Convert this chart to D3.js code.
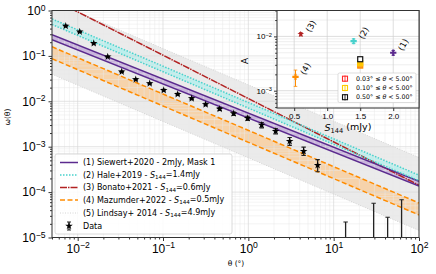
<!DOCTYPE html>
<html lang="en">
<head>
<meta charset="utf-8">
<title>Angular correlation function</title>
<script src="https://cdn.jsdelivr.net/npm/d3@7"></script>
<style>
    body { margin: 0; background: #fff; }
    svg { font-family: "DejaVu Sans", sans-serif; }
</style>
</head>
<body>
<script>
// Data points (stars). null = value below axis, only the upper error bar shows
var thetaData = [0.00724, 0.01057, 0.01542, 0.0225, 0.0328, 0.0479, 0.0698, 0.1019, 0.1486,
                 0.2168, 0.316, 0.461, 0.673, 0.982, 1.432, 2.089, 3.048, 4.446, 6.486,
                 13.8, 29.4, 42.9, 62.5];
var omegaData = [0.455, 0.34, 0.189, 0.0955, 0.0446, 0.0303, 0.0247, 0.0176, 0.01435,
                 0.01153, 0.0085, 0.0068, 0.00538, 0.00424, 0.00301, 0.00219, 0.00132, 0.00079, 0.00039,
                 null, null, null, null];
var omegaLo = [0.44, 0.33, 0.183, 0.092, 0.043, 0.029, 0.0237, 0.0169, 0.0137,
               0.0109, 0.0080, 0.0063, 0.0049, 0.0038, 0.0026, 0.0019, 0.00107, 0.00064, 0.00028,
               null, null, null, null];
var omegaHi = [0.47, 0.35, 0.195, 0.099, 0.0462, 0.0316, 0.0257, 0.0183, 0.0150,
               0.0121, 0.0090, 0.0073, 0.0058, 0.0047, 0.0034, 0.0025, 0.00159, 0.00098, 0.00052,
               2.2e-5, 5.7e-5, 2.8e-5, 6.8e-5];

// Power law models w = A * theta^slope, band between ampLo and ampHi
var modelLabels = ["(1) Siewert+2020 - 2mJy, Mask 1", "(2) Hale+2019 - S144=1.4mJy",
                   "(3) Bonato+2021 - S144=0.6mJy", "(4) Mazumder+2022 - S144=0.5mJy",
                   "(5) Lindsay+ 2014 - S144=4.9mJy"];
var modelAmpLo = [4.3e-3, 7.1e-3, 1.15e-2, 1.25e-3, 5.7e-4];
var modelAmpHi = [5.5e-3, 9.4e-3, 1.15e-2, 2.29e-3, 2.3e-2];
var modelSlope = [-0.75, -0.8, -0.955, -0.8, -0.8];
var modelColor = ["#5b2a8e", "#48d1cc", "#b22222", "#ff8c00", "#d4d4d4"];
var modelFill = ["#c9b5dc", "#bdeeec", null, "#f6d3ab", "#ebebeb"];
var modelDash = [null, "1.5,1.5", "7,1,1.5,1", "5,2.5", "1,1.5"];

// Inset: amplitude A against flux limit S144
var insetLabels = ["(1)", "(2)", "(3)", "(4)"];
var insetFlux = [2.0, 1.4, 0.6, 0.52];
var insetAmp = [5.0e-3, 8.2e-3, 1.1e-2, 1.8e-3];
var insetErr = [0.5e-3, 0.8e-3, 0.08e-2, 0.6e-3];
var rangeLabels = [["0.03° ≤ ", "θ", " < 5.00°"], ["0.10° ≤ ", "θ", " < 5.00°"], ["0.50° ≤ ", "θ", " < 5.00°"]];
var rangeFlux = [1.5, 1.5, 1.5];
var rangeAmp = [2.9e-3, 3.2e-3, 3.8e-3];
var rangeErr = [0.25e-3, 0.25e-3, 0.3e-3];
var rangeColor = ["#ff2a2a", "#ffcc00", "#111111"];

var w = 436, h = 274;
var svg = d3.select("body").append("svg").attr("width", w).attr("height", h);

var x = d3.scaleLog().domain([0.005, 100]).range([52, 419]);
var y = d3.scaleLog().domain([1e-5, 1]).range([237.5, 10.5]);

function minors(lo, hi) {
    var out = [];
    for (var e = lo; e < hi; e++) {
        for (var m = 2; m <= 9; m++) out.push(m * Math.pow(10, e));
    }
    return out;
}
function supLabel(sel) {
    sel.each(function(d) {
        var t = d3.select(this), e = Math.round(Math.log10(d));
        t.text(null);
        t.append("tspan").text("10");
        t.append("tspan").attr("dy", "-0.5em").attr("font-size", "0.72em")
            .text(e < 0 ? "\u2212" + (-e) : e);
    });
}
function subLabel(t, str) {
    var parts = str.split("S144");
    t.append("tspan").text(parts[0]);
    for (var i = 1; i < parts.length; i++) {
        t.append("tspan").attr("font-style", "italic").text("S");
        t.append("tspan").attr("dy", "0.3em").attr("font-size", "0.7em").text("144");
        t.append("tspan").attr("dy", "-0.3em").text(parts[i]);
    }
}

svg.append("clipPath").attr("id", "clip").append("rect")
    .attr("x", 52).attr("y", 10.5).attr("width", 367).attr("height", 227);
var plot = svg.append("g").attr("clip-path", "url(#clip)");

var tEnds = x.domain();
function lineFor(A, s) {
    return tEnds.map(function(t) { return [x(t), y(A * Math.pow(t, s))]; });
}

// bands (Lindsay first so it sits at the back)
[4, 3, 0, 1].forEach(function(i) {
    var lo = lineFor(modelAmpLo[i], modelSlope[i]);
    var hi = lineFor(modelAmpHi[i], modelSlope[i]);
    plot.append("path")
        .attr("d", d3.line()(lo.concat(hi.reverse())) + "Z")
        .attr("fill", modelFill[i]);
});

// grid
minors(-3, 2).forEach(function(t) {
    plot.append("line").attr("x1", x(t)).attr("x2", x(t)).attr("y1", 10.5).attr("y2", 237.5)
        .attr("stroke", "#e8e8e8").attr("stroke-width", 0.5);
});
minors(-5, 0).forEach(function(v) {
    plot.append("line").attr("y1", y(v)).attr("y2", y(v)).attr("x1", 52).attr("x2", 419)
        .attr("stroke", "#e8e8e8").attr("stroke-width", 0.5);
});
[0.01, 0.1, 1, 10].forEach(function(t) {
    plot.append("line").attr("x1", x(t)).attr("x2", x(t)).attr("y1", 10.5).attr("y2", 237.5)
        .attr("stroke", "#d8d8d8").attr("stroke-width", 0.7);
});
[1e-4, 1e-3, 1e-2, 1e-1].forEach(function(v) {
    plot.append("line").attr("y1", y(v)).attr("y2", y(v)).attr("x1", 52).attr("x2", 419)
        .attr("stroke", "#d8d8d8").attr("stroke-width", 0.7);
});

// model lines
[4, 2, 3, 0, 1].forEach(function(i) {
    var amps = modelAmpLo[i] === modelAmpHi[i] ? [modelAmpLo[i]] : [modelAmpLo[i], modelAmpHi[i]];
    amps.forEach(function(A) {
        plot.append("path")
            .attr("d", d3.line()(lineFor(A, modelSlope[i])))
            .attr("fill", "none")
            .attr("stroke", modelColor[i])
            .attr("stroke-width", i === 4 ? 1 : 1.5)
            .attr("stroke-dasharray", modelDash[i]);
    });
});

// data error bars and stars
var star = d3.symbol().type(d3.symbolStar).size(18);
thetaData.forEach(function(t, i) {
    var yTop = y(omegaHi[i]);
    var yBot = omegaLo[i] === null ? 240 : y(omegaLo[i]);
    var cx = x(t);
    plot.append("line").attr("x1", cx).attr("x2", cx).attr("y1", yTop).attr("y2", yBot)
        .attr("stroke", "#222").attr("stroke-width", 1.3);
    plot.append("line").attr("x1", cx - 2.2).attr("x2", cx + 2.2).attr("y1", yTop).attr("y2", yTop)
        .attr("stroke", "#222").attr("stroke-width", 1.1);
    if (omegaLo[i] !== null) {
        plot.append("line").attr("x1", cx - 2.2).attr("x2", cx + 2.2).attr("y1", yBot).attr("y2", yBot)
            .attr("stroke", "#222").attr("stroke-width", 1.1);
    }
    if (omegaData[i] !== null) {
        plot.append("path").attr("d", star)
            .attr("transform", "translate(" + cx + "," + y(omegaData[i]) + ")")
            .attr("fill", "#000");
    }
});

// main axes
var xAxis = svg.append("g").attr("transform", "translate(0,237.5)")
    .call(d3.axisBottom(x).tickValues([0.01, 0.1, 1, 10, 100]).tickSize(3.5).tickPadding(3));
xAxis.selectAll(".tick text").attr("font-size", 12).attr("fill", "#000").call(supLabel);
svg.append("g").attr("transform", "translate(0,237.5)")
    .call(d3.axisBottom(x).tickValues(minors(-3, 2).filter(function(t) { return t >= 0.005; }))
        .tickSize(2).tickFormat(""));
var yAxis = svg.append("g").attr("transform", "translate(52,0)")
    .call(d3.axisLeft(y).tickValues([1e-5, 1e-4, 1e-3, 1e-2, 1e-1, 1]).tickSize(3.5).tickPadding(3));
yAxis.selectAll(".tick text").attr("font-size", 12).attr("fill", "#000").call(supLabel);
svg.append("g").attr("transform", "translate(52,0)")
    .call(d3.axisLeft(y).tickValues(minors(-5, 0)).tickSize(2).tickFormat(""));
svg.selectAll(".domain").remove();
svg.selectAll(".tick line").attr("stroke", "#333");
svg.append("rect").attr("x", 52).attr("y", 10.5).attr("width", 367).attr("height", 227)
    .attr("fill", "none").attr("stroke", "#333").attr("stroke-width", 1);

svg.append("text").attr("transform", "translate(10,117) rotate(-90)")
    .attr("text-anchor", "middle").attr("font-size", 7.5).text("ω(θ)");
svg.append("text").attr("x", 236).attr("y", 266)
    .attr("text-anchor", "middle").attr("font-size", 7.5).text("θ (°)");

// main legend
var leg = svg.append("g");
leg.append("rect").attr("x", 55).attr("y", 154).attr("width", 177).attr("height", 80)
    .attr("rx", 2).attr("fill", "#fff").attr("fill-opacity", 0.85)
    .attr("stroke", "#d0d0d0").attr("stroke-width", 0.8);
var legY = [162.5, 175, 187.5, 200, 213, 226];
modelLabels.forEach(function(lab, i) {
    leg.append("line").attr("x1", 60).attr("x2", 78).attr("y1", legY[i]).attr("y2", legY[i])
        .attr("stroke", modelColor[i]).attr("stroke-width", i === 4 ? 1 : 1.5)
        .attr("stroke-dasharray", modelDash[i]);
    var t = leg.append("text").attr("x", 83).attr("y", legY[i]).attr("dy", "0.35em")
        .attr("font-size", 8);
    subLabel(t, lab);
});
leg.append("line").attr("x1", 69).attr("x2", 69).attr("y1", legY[5] - 4).attr("y2", legY[5] + 4)
    .attr("stroke", "#222").attr("stroke-width", 1.2);
[-4, 4].forEach(function(d) {
    leg.append("line").attr("x1", 67).attr("x2", 71).attr("y1", legY[5] + d).attr("y2", legY[5] + d)
        .attr("stroke", "#222").attr("stroke-width", 1);
});
leg.append("path").attr("d", star).attr("transform", "translate(69," + legY[5] + ")").attr("fill", "#000");
leg.append("text").attr("x", 83).attr("y", legY[5]).attr("dy", "0.35em").attr("font-size", 8).text("Data");

// inset
var ix = d3.scaleLinear().domain([0.24, 2.39]).range([277, 419]);
var iy = d3.scaleLog().domain([4.8e-4, 0.03]).range([108, 10.5]);
var inset = svg.append("g");
inset.append("rect").attr("x", 277).attr("y", 10.5).attr("width", 142).attr("height", 97.5).attr("fill", "#fff");
var iMinor = minors(-4, -1).filter(function(v) { return v >= 4.8e-4 && v <= 0.03; });
iMinor.forEach(function(v) {
    inset.append("line").attr("x1", 277).attr("x2", 419).attr("y1", iy(v)).attr("y2", iy(v))
        .attr("stroke", "#e4e4e4").attr("stroke-width", 0.6);
});
[1e-3, 1e-2].forEach(function(v) {
    inset.append("line").attr("x1", 277).attr("x2", 419).attr("y1", iy(v)).attr("y2", iy(v))
        .attr("stroke", "#d0d0d0").attr("stroke-width", 0.7);
});
[0.5, 1.0, 1.5, 2.0].forEach(function(s) {
    inset.append("line").attr("x1", ix(s)).attr("x2", ix(s)).attr("y1", 10.5).attr("y2", 108)
        .attr("stroke", "#d0d0d0").attr("stroke-width", 0.7);
});

var cross = d3.symbol().type(d3.symbolCross).size(22);
var istar = d3.symbol().type(d3.symbolStar).size(14);
var insetColor = [modelColor[0], modelColor[1], modelColor[2], modelColor[3]];
insetFlux.forEach(function(s, i) {
    var cx = ix(s), yT = iy(insetAmp[i] + insetErr[i]), yB = iy(insetAmp[i] - insetErr[i]);
    inset.append("line").attr("x1", cx).attr("x2", cx).attr("y1", yT).attr("y2", yB)
        .attr("stroke", insetColor[i]).attr("stroke-width", 1);
    [yT, yB].forEach(function(yy) {
        inset.append("line").attr("x1", cx - 1.8).attr("x2", cx + 1.8).attr("y1", yy).attr("y2", yy)
            .attr("stroke", insetColor[i]).attr("stroke-width", 0.8);
    });
    inset.append("path").attr("d", i === 2 ? istar : cross)
        .attr("transform", "translate(" + cx + "," + iy(insetAmp[i]) + ")")
        .attr("fill", insetColor[i]);
    inset.append("text")
        .attr("transform", "translate(" + (cx + 10) + "," + (iy(insetAmp[i]) - 8) + ") rotate(-62)")
        .attr("text-anchor", "middle").attr("dy", "0.35em").attr("font-size", 8.5)
        .text(insetLabels[i]);
});
rangeFlux.forEach(function(s, i) {
    var cx = ix(s), cy = iy(rangeAmp[i]);
    inset.append("line").attr("x1", cx).attr("x2", cx)
        .attr("y1", iy(rangeAmp[i] + rangeErr[i])).attr("y2", iy(rangeAmp[i] - rangeErr[i]))
        .attr("stroke", rangeColor[i]).attr("stroke-width", 1);
    inset.append("rect").attr("x", cx - 2.5).attr("y", cy - 2.5).attr("width", 5).attr("height", 5)
        .attr("fill", i === 0 ? "#ff9a2a" : (i === 1 ? "#ffc400" : "#fff"))
        .attr("stroke", i === 0 ? "#ff8c00" : rangeColor[i]).attr("stroke-width", 1.2);
});

var ixAxis = inset.append("g").attr("transform", "translate(0,108)")
    .call(d3.axisBottom(ix).tickValues([0.5, 1.0, 1.5, 2.0]).tickFormat(d3.format(".1f")).tickSize(3).tickPadding(2));
ixAxis.selectAll(".tick text").attr("font-size", 8).attr("fill", "#000");
var iyAxis = inset.append("g").attr("transform", "translate(277,0)")
    .call(d3.axisLeft(iy).tickValues([1e-3, 1e-2]).tickSize(3).tickPadding(2));
iyAxis.selectAll(".tick text").attr("font-size", 8).attr("fill", "#000").call(supLabel);
inset.append("g").attr("transform", "translate(277,0)")
    .call(d3.axisLeft(iy).tickValues(iMinor).tickSize(1.8).tickFormat(""));
inset.selectAll(".domain").remove();
inset.selectAll(".tick line").attr("stroke", "#333");
inset.append("rect").attr("x", 277).attr("y", 10.5).attr("width", 142).attr("height", 97.5)
    .attr("fill", "none").attr("stroke", "#333").attr("stroke-width", 1);

inset.append("text").attr("transform", "translate(245,61) rotate(-90)")
    .attr("text-anchor", "middle").attr("dy", "0.35em").attr("font-size", 9).text("A");
var sl = inset.append("text").attr("x", 348).attr("y", 131).attr("text-anchor", "middle").attr("font-size", 9.5);
subLabel(sl, "S144 (mJy)");

// inset legend
inset.append("rect").attr("x", 338).attr("y", 73).attr("width", 78).attr("height", 29.5)
    .attr("rx", 1.5).attr("fill", "#fff").attr("stroke", "#d0d0d0").attr("stroke-width", 0.7);
var ilY = [78.7, 88, 97.2];
rangeLabels.forEach(function(parts, i) {
    inset.append("line").attr("x1", 345).attr("x2", 345).attr("y1", ilY[i] - 3.2).attr("y2", ilY[i] + 3.2)
        .attr("stroke", rangeColor[i]).attr("stroke-width", 0.9);
    inset.append("rect").attr("x", 342.5).attr("y", ilY[i] - 2.5).attr("width", 5).attr("height", 5)
        .attr("fill", "none").attr("stroke", rangeColor[i]).attr("stroke-width", 1.1);
    var t = inset.append("text").attr("x", 356).attr("y", ilY[i]).attr("dy", "0.35em").attr("font-size", 6.3);
    t.append("tspan").text(parts[0]);
    t.append("tspan").attr("font-style", "italic").text(parts[1]);
    t.append("tspan").text(parts[2]);
});
</script>
</body>
</html>
